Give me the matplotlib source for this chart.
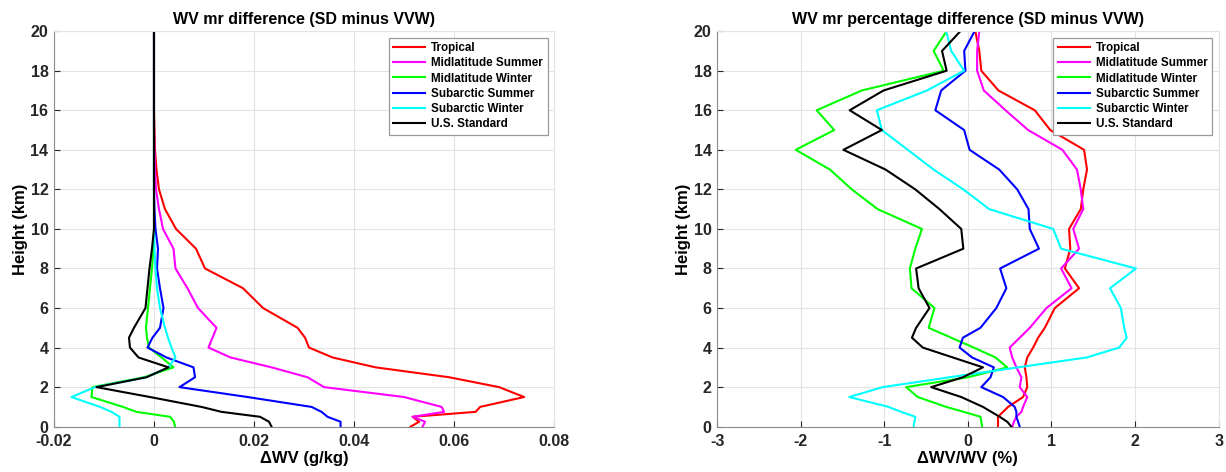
import numpy as np
import matplotlib
matplotlib.use('Agg')
import matplotlib.pyplot as plt

plt.rcParams['font.family'] = ['Liberation Sans', 'DejaVu Sans']
plt.rcParams['font.weight'] = 'bold'

# height levels (km)
height = [0, 0.25, 0.5, 0.75, 1, 1.5, 2, 2.5, 3, 3.5, 4, 4.5, 5,
          6, 7, 8, 9, 10, 11, 12, 13, 14, 15, 16, 17, 18, 19, 20]

names = ['Tropical', 'Midlatitude Summer', 'Midlatitude Winter',
         'Subarctic Summer', 'Subarctic Winter', 'U.S. Standard']
colors = ['#ff0000', '#ff00ff', '#00ff00', '#0000ff', '#00ffff', '#000000']

# mixing ratio difference (g/kg)
dwv_trop = [0.0513, 0.0530, 0.0517, 0.0643, 0.0652, 0.0740, 0.0690, 0.0590, 0.0443, 0.0357,
            0.0310, 0.0302, 0.0287, 0.0218, 0.0178, 0.0102, 0.0084, 0.0044, 0.0022, 0.0010,
            0.0005, 0.0002, 0.0001, 0, 0, 0, 0, 0]
dwv_mls = [0.0537, 0.0542, 0.0517, 0.0580, 0.0575, 0.0500, 0.0340, 0.0307, 0.0235, 0.0153,
           0.0109, 0.0117, 0.0125, 0.0088, 0.0067, 0.0043, 0.0039, 0.0018, 0.0010, 0.0004,
           0.0002, 0.0001, 0, 0, 0, 0, 0, 0]
dwv_mlw = [0.0042, 0.0040, 0.0032, -0.0035, -0.0062, -0.0125, -0.0123, -0.0020, 0.0039, 0.0015,
           -0.0010, -0.0014, -0.0016, -0.0012, -0.0008, -0.0004, -0.0001, 0, 0, 0,
           0, 0, 0, 0, 0, 0, 0, 0]
dwv_sas = [0.0373, 0.0373, 0.0347, 0.0335, 0.0315, 0.0187, 0.0051, 0.0082, 0.0079, 0.0025,
           -0.0013, -0.0003, 0.0012, 0.0019, 0.0012, 0.0006, 0.0008, 0.0003, 0.0001, 0,
           0, 0, 0, 0, 0, 0, 0, 0]
dwv_saw = [-0.0069, -0.0069, -0.0069, -0.0085, -0.0108, -0.0165, -0.0118, -0.0015, 0.0029, 0.0043,
           0.0035, 0.0028, 0.0022, 0.0012, 0.0006, 0.0003, 0.0001, 0, 0, 0,
           0, 0, 0, 0, 0, 0, 0, 0]
dwv_us = [0.0235, 0.0230, 0.0212, 0.0135, 0.0095, -0.0008, -0.0115, -0.0015, 0.0029, -0.0031,
          -0.0048, -0.0050, -0.0040, -0.0017, -0.0013, -0.0009, -0.0004, 0, 0, 0,
          0, 0, 0, 0, 0, 0, 0, 0]

# percentage difference (%)
pct_trop = [0.36, 0.36, 0.36, 0.42, 0.48, 0.66, 0.71, 0.70, 0.68, 0.71,
            0.78, 0.84, 0.92, 1.04, 1.33, 1.16, 1.225, 1.21, 1.35, 1.38,
            1.425, 1.39, 0.985, 0.80, 0.365, 0.16, 0.136, 0.088]
pct_mls = [0.53, 0.55, 0.58, 0.64, 0.66, 0.71, 0.62, 0.64, 0.58, 0.53,
           0.50, 0.62, 0.74, 0.94, 1.24, 1.115, 1.33, 1.26, 1.38, 1.35,
           1.305, 1.13, 0.72, 0.45, 0.19, 0.11, 0.11, 0.136]
pct_mlw = [0.17, 0.16, 0.15, -0.05, -0.26, -0.60, -0.74, 0.00, 0.47, 0.33,
           0.07, -0.20, -0.47, -0.40, -0.675, -0.695, -0.63, -0.55, -1.08, -1.39,
           -1.65, -2.06, -1.60, -1.81, -1.27, -0.29, -0.41, -0.255]
pct_sas = [0.62, 0.60, 0.58, 0.58, 0.56, 0.42, 0.16, 0.27, 0.31, 0.05,
           -0.10, -0.06, 0.15, 0.34, 0.46, 0.385, 0.85, 0.74, 0.725, 0.59,
           0.375, 0.02, -0.045, -0.39, -0.32, -0.03, -0.045, 0.08]
pct_saw = [-0.65, -0.64, -0.63, -0.80, -0.95, -1.42, -1.02, -0.22, 0.60, 1.42,
           1.81, 1.90, 1.87, 1.83, 1.70, 2.01, 1.115, 1.02, 0.255, -0.055,
           -0.41, -0.72, -1.03, -1.09, -0.49, -0.045, -0.20, -0.26]
pct_us = [0.52, 0.47, 0.38, 0.28, 0.18, -0.08, -0.44, -0.06, 0.18, -0.18,
          -0.54, -0.67, -0.62, -0.46, -0.59, -0.62, -0.055, -0.08, -0.34, -0.63,
          -0.985, -1.49, -1.03, -1.415, -1.01, -0.255, -0.31, -0.09]

dwv = [dwv_trop, dwv_mls, dwv_mlw, dwv_sas, dwv_saw, dwv_us]
pct = [pct_trop, pct_mls, pct_mlw, pct_sas, pct_saw, pct_us]

x_ticks_left = [-0.02, 0, 0.02, 0.04, 0.06, 0.08]
x_labels_left = ['-0.02', '0', '0.02', '0.04', '0.06', '0.08']
x_ticks_right = [-3, -2, -1, 0, 1, 2, 3]
x_labels_right = ['-3', '-2', '-1', '0', '1', '2', '3']


def style_axes(ax, xticks, xlabels, xlabel, title):
    ax.set_ylim(0, 20)
    ax.set_xlim(xticks[0], xticks[-1])
    ax.set_xticks(xticks)
    ax.set_xticklabels(xlabels)
    ax.set_yticks(range(0, 21, 2))
    ax.grid(True, color='#e3e3e3', linewidth=0.8)
    ax.set_axisbelow(True)
    ax.tick_params(direction='in', length=4, labelsize=11.5, colors='#262626',
                   width=0.8, pad=4)
    ax.tick_params(axis='x', pad=5)
    for lab in ax.get_xticklabels() + ax.get_yticklabels():
        lab.set_fontweight('bold')
    for side in ['left', 'bottom']:
        ax.spines[side].set_color('#8c8c8c')
    for side in ['top', 'right']:
        ax.spines[side].set_color('#e3e3e3')
    ax.set_xlabel(xlabel, fontsize=12, fontweight='bold', labelpad=2)
    ax.set_ylabel('Height (km)', fontsize=12, fontweight='bold', labelpad=2)
    ax.set_title(title, fontsize=11.5, fontweight='bold', pad=5)
    leg = ax.legend(loc='upper right', fontsize=8.4, frameon=True, fancybox=False,
                    framealpha=1, edgecolor='#9a9a9a', borderaxespad=0.55,
                    handlelength=2.75, handletextpad=0.5, labelspacing=0.27,
                    borderpad=0.4)
    for t in leg.get_texts():
        t.set_fontweight('bold')
    leg.get_frame().set_linewidth(0.9)


fig = plt.figure(figsize=(12.26, 4.72), dpi=100)
ax1 = fig.add_axes([0.044, 0.096, 0.408, 0.838])
ax2 = fig.add_axes([0.585, 0.096, 0.409, 0.838])

for vals, name, c in zip(dwv, names, colors):
    ax1.plot(vals, height, color=c, linewidth=1.5, label=name)
for vals, name, c in zip(pct, names, colors):
    ax2.plot(vals, height, color=c, linewidth=1.5, label=name)

style_axes(ax1, x_ticks_left, x_labels_left, '\u0394WV (g/kg)',
           'WV mr difference (SD minus VVW)')
style_axes(ax2, x_ticks_right, x_labels_right, '\u0394WV/WV (%)',
           'WV mr percentage difference (SD minus VVW)')

fig.savefig('out.png', dpi=100)
